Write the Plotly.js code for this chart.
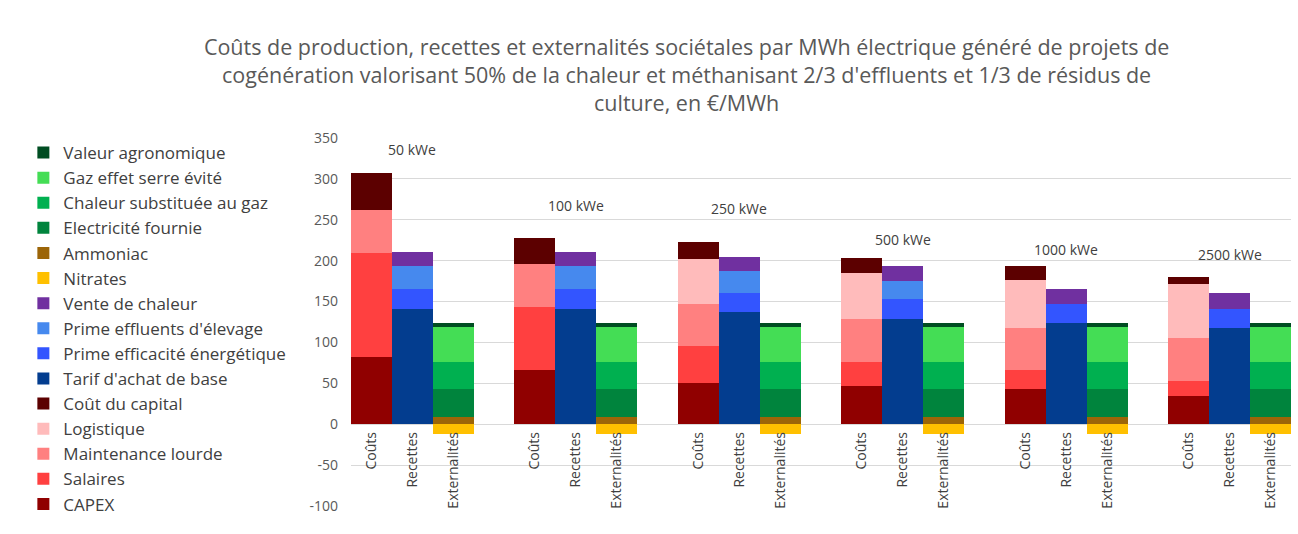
<!DOCTYPE html>
<html>
<head>
<meta charset="utf-8">
<script src="https://cdn.plot.ly/plotly-3.0.1.min.js"></script>
<style>
  html, body { margin: 0; padding: 0; background: #fff; }
  #chart { width: 1298px; height: 534px; }
  #border { position: absolute; left: 7px; top: 0; width: 1px; height: 534px; background: #d9d9d9; }
</style>
</head>
<body>
<div id="border"></div>
<div id="chart"></div>
<script>
// ---------- data ----------
const groups = ['50 kWe', '100 kWe', '250 kWe', '500 kWe', '1000 kWe', '2500 kWe'];
const barTypes = ['Coûts', 'Recettes', 'Externalités'];
const groupLabelY = [336, 267, 264, 226, 214, 208];
const yTickVals = [-100, -50, 0, 50, 100, 150, 200, 250, 300, 350];
const yTickText = ['-100', '-50', '0', '50', '100', '150', '200', '250', '300', '350'];

// Coûts
const capex        = [82, 66, 50.5, 46.4, 43.5, 34.6];
const salaires     = [127.5, 77.4, 45.1, 29.7, 22.4, 18.3];
const maintenance  = [52.5, 52.5, 51.7, 52.1, 52.1, 52.5];
const logistique   = [0, 0, 55, 56.6, 58.6, 66.4];
const coutCapital  = [45, 31.7, 21.1, 18.7, 16.3, 8.5];
// Recettes
const tarifBase    = [140.8, 140.8, 136.8, 128.2, 123.3, 118];
const primeEff     = [24.4, 24.4, 23.2, 24.4, 23.2, 22.8];
const primeEffl    = [27.7, 27.7, 27.2, 22, 0, 0];
const venteChaleur = [17.5, 17.5, 17.9, 18.3, 18.7, 19.2];
// Externalités
const nitrates     = [-12, -12, -12, -12, -12, -12];
const ammoniac     = [8.5, 8.5, 8.5, 8.5, 8.5, 8.5];
const electricite  = [34.6, 34.6, 34.6, 34.6, 34.6, 34.6];
const chaleurGaz   = [32.6, 32.6, 32.6, 32.6, 32.6, 32.6];
const gesEvite     = [43.1, 43.1, 43.1, 43.1, 43.1, 43.1];
const valeurAgro   = [4.5, 4.5, 4.5, 4.5, 4.5, 4.5];

// ---------- series definition (bottom to top) ----------
const series = [
  {name: 'CAPEX', values: capex, bar: 0, color: '#900000'},
  {name: 'Salaires', values: salaires, bar: 0, color: '#FF4040'},
  {name: 'Maintenance lourde', values: maintenance, bar: 0, color: '#FF8080'},
  {name: 'Logistique', values: logistique, bar: 0, color: '#FFBBBB'},
  {name: 'Coût du capital', values: coutCapital, bar: 0, color: '#5C0000'},
  {name: "Tarif d'achat de base", values: tarifBase, bar: 1, color: '#033D8F'},
  {name: 'Prime efficacité énergétique', values: primeEff, bar: 1, color: '#3355FF'},
  {name: "Prime effluents d'élevage", values: primeEffl, bar: 1, color: '#4689EE'},
  {name: 'Vente de chaleur', values: venteChaleur, bar: 1, color: '#7030A0'},
  {name: 'Nitrates', values: nitrates, bar: 2, color: '#FFC000'},
  {name: 'Ammoniac', values: ammoniac, bar: 2, color: '#9C6508'},
  {name: 'Electricité fournie', values: electricite, bar: 2, color: '#00843D'},
  {name: 'Chaleur substituée au gaz', values: chaleurGaz, bar: 2, color: '#00B050'},
  {name: 'Gaz effet serre évité', values: gesEvite, bar: 2, color: '#44DD55'},
  {name: 'Valeur agronomique', values: valeurAgro, bar: 2, color: '#004D22'}
];

const slot = (g, k) => g * 4 + k;

const traces = series.map(s => ({
  type: 'bar',
  name: s.name,
  x: groups.map((_, g) => slot(g, s.bar)),
  y: s.values,
  width: 1,
  marker: {color: s.color, line: {width: 0}},
  hoverinfo: 'name+y'
}));

const tickvals = [], ticktext = [];
groups.forEach((_, g) => barTypes.forEach((t, k) => { tickvals.push(slot(g, k)); ticktext.push(t); }));

const font = 'Open Sans, sans-serif';
const annotations = groups.map((lbl, g) => ({
  x: slot(g, 1), y: groupLabelY[g], xref: 'x', yref: 'y',
  text: lbl, showarrow: false,
  font: {family: font, size: 14, color: '#404040'}
}));

const layout = {
  width: 1298, height: 534,
  margin: {l: 351, r: 7, t: 138, b: 28},
  paper_bgcolor: '#fff', plot_bgcolor: '#fff',
  barmode: 'relative', bargap: 0,
  title: {
    text: "Coûts de production, recettes et externalités sociétales par MWh électrique généré de projets de<br>cogénération valorisant 50% de la chaleur et méthanisant 2/3 d'effluents et 1/3 de résidus de<br>culture, en €/MWh",
    font: {family: font, size: 21.5, color: '#595959'},
    x: 0.529, xref: 'container', xanchor: 'center',
    y: 1 - 55 / 534, yref: 'container', yanchor: 'top'
  },
  xaxis: {
    range: [-0.5, 22.5],
    tickvals: tickvals, ticktext: ticktext,
    tickangle: -90, ticks: '', showgrid: false, zeroline: false, showline: false,
    anchor: 'free', position: 100 / 450,
    tickfont: {family: font, size: 14, color: '#404040'},
    ticklabelstandoff: 4
  },
  yaxis: {
    range: [-100, 350],
    tickmode: 'array', tickvals: yTickVals, ticktext: yTickText,
    ticks: '', showgrid: true, gridcolor: '#d9d9d9', gridwidth: 1,
    zeroline: true, zerolinecolor: '#d9d9d9', zerolinewidth: 1,
    showline: false,
    tickfont: {family: font, size: 14, color: '#595959'},
    ticklabelstandoff: 12
  },
  legend: {
    traceorder: 'reversed',
    xref: 'container', yref: 'container',
    x: 0.018, xanchor: 'left',
    y: 1 - 135 / 534, yanchor: 'top',
    maxheight: 500,
    font: {family: font, size: 17, color: '#404040'},
    bgcolor: 'rgba(0,0,0,0)'
  },
  annotations: annotations,
  showlegend: true
};

Plotly.newPlot('chart', traces, layout, {displayModeBar: false, staticPlot: true});
</script>
</body>
</html>
